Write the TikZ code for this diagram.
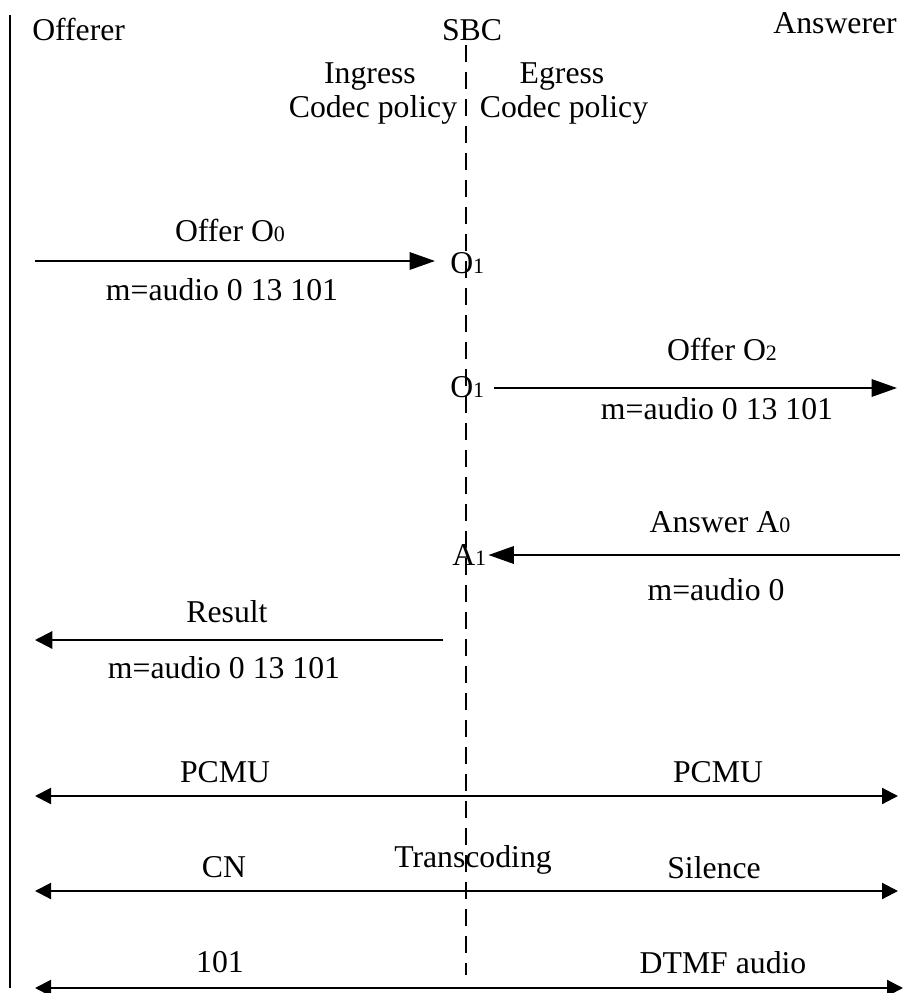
\documentclass[tikz,border=0pt]{standalone}
\usepackage{fontspec}
\setmainfont{Liberation Serif}
\usetikzlibrary{arrows.meta}
\newcommand\smalldig[1]{{\fontsize{16.5}{16.5}\selectfont #1}}
\begin{document}
\begin{tikzpicture}[x=0.75pt,y=-0.75pt,
  lbl/.style={inner sep=0pt,font=\fontsize{23.8}{28}\selectfont},
  msg/.style={line width=1.6pt,-{Triangle[length=19pt,width=13pt]}},
  media/.style={line width=1.6pt,{Triangle[length=12pt,width=12pt]}-{Triangle[length=12pt,width=12pt]}},
  life/.style={line width=1pt,dash pattern=on 12.75pt off 7.5pt},
  border/.style={line width=1.6pt}]
\useasboundingbox (0,0) rectangle (912,993);
% lifelines
\coordinate (lt) at (10,15); \coordinate (lb) at (10,988);
\draw[border] (lt) -- (lb);
\coordinate (st) at (466,45); \coordinate (sb) at (466,975);
\draw[life] (st) -- (sb);
% headers
\node[lbl,anchor=base west] (offerer) at (32,40) {Offerer};
\node[lbl,anchor=base] (sbc) at (472,40) {SBC};
\node[lbl,anchor=base east] (answerer) at (897,33) {Answerer};
\node[lbl,anchor=base] (ing) at (370,83) {Ingress};
\node[lbl,anchor=base] (ingc) at (373,117) {Codec policy};
\node[lbl,anchor=base] (eg) at (562,83) {Egress};
\node[lbl,anchor=base] (egc) at (564,117) {Codec policy};
% message 1
\coordinate (m1s) at (35,261);
\node[lbl,anchor=base west] (o1a) at (450,273) {O\smalldig{1}};
\draw[msg,shorten >=11.25pt] (m1s) -- (o1a.west |- m1s);
\node[lbl,anchor=base] (off0) at (230,241) {Offer O\smalldig{0}};
\node[lbl,anchor=base] (sdp1) at (222,300) {m=audio 0 13 101};
% message 2
\node[lbl,anchor=base west] (o1b) at (450,397) {O\smalldig{1}};
\coordinate (m2e) at (897,388);
\draw[msg,shorten <=7.5pt] (o1b.east |- m2e) -- (m2e);
\node[lbl,anchor=base] (off2) at (722,360) {Offer O\smalldig{2}};
\node[lbl,anchor=base] (sdp2) at (717,419) {m=audio 0 13 101};
% message 3
\node[lbl,anchor=base west] (a1) at (452,565) {A\smalldig{1}};
\coordinate (m3s) at (900,555);
\draw[msg,shorten >=1.5pt] (m3s) -- (a1.east |- m3s);
\node[lbl,anchor=base] (ans0) at (720,532) {Answer A\smalldig{0}};
\node[lbl,anchor=base] (sdp3) at (716,600) {m=audio 0};
% result
\coordinate (m4s) at (443,640); \coordinate (m4e) at (35,640);
\draw[msg,-{Triangle[length=13pt,width=13pt]}] (m4s) -- (m4e);
\node[lbl,anchor=base] (res) at (227,622) {Result};
\node[lbl,anchor=base] (sdp4) at (224,678) {m=audio 0 13 101};
% media
\coordinate (p1l) at (35,796); \coordinate (p1r) at (898,796);
\draw[media] (p1l) -- (p1r);
\node[lbl,anchor=base] (pcmu1) at (225,782) {PCMU};
\node[lbl,anchor=base] (pcmu2) at (718,782) {PCMU};
\coordinate (p2l) at (35,891); \coordinate (p2r) at (898,891);
\draw[media] (p2l) -- (p2r);
\node[lbl,anchor=base] (cn) at (224,877) {CN};
\node[lbl,anchor=base] (trans) at (473,867) {Transcoding};
\node[lbl,anchor=base] (sil) at (714,878) {Silence};
\coordinate (p3l) at (35,988); \coordinate (p3r) at (903,988);
\draw[media] (p3l) -- (p3r);
\node[lbl,anchor=base] (dtmf1) at (220,972) {101};
\node[lbl,anchor=base] (dtmf2) at (723,973) {DTMF audio};
\end{tikzpicture}
\end{document}
